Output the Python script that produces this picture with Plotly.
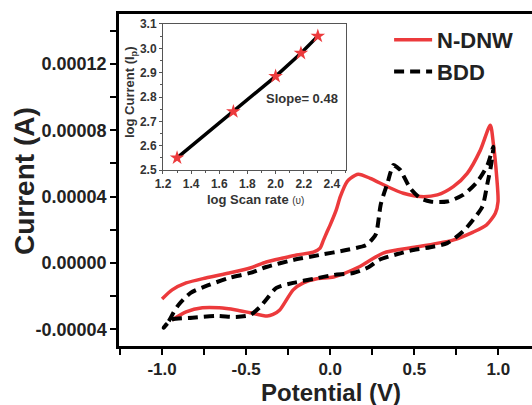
import numpy as np
import plotly.graph_objects as go

# ---------------- data ----------------
# N-DNW cyclic voltammogram (potential V, current in 1e-5 A)
ndnw_v = [-1.0, -0.94, -0.857, -0.74, -0.6, -0.476, -0.38, -0.28, -0.2, -0.1, -0.06, -0.04, -0.018,
          0.0, 0.036, 0.06, 0.10, 0.12, 0.167, 0.238, 0.34, 0.435, 0.536, 0.637, 0.732, 0.815,
          0.893, 0.952, 0.97, 0.99, 0.998, 0.982, 0.93, 0.85, 0.73, 0.51, 0.315, 0.17, 0.02,
          -0.08, -0.16, -0.22, -0.30, -0.34, -0.375, -0.476, -0.56, -0.66, -0.76, -0.857, -0.94]
ndnw_i = [-2.17, -1.62, -1.2, -0.9, -0.6, -0.3, 0.06, 0.3, 0.48, 0.66, 0.9, 1.38, 1.9,
          2.3, 3.2, 4.0, 4.9, 5.1, 5.35, 5.1, 4.6, 4.2, 4.0, 4.1, 4.6, 5.4,
          6.8, 8.3, 7.2, 5.2, 3.7, 3.0, 2.3, 1.86, 1.38, 0.96, 0.6, -0.24, -0.84,
          -0.95, -1.2, -1.62, -2.83, -3.1, -3.2, -3.0, -2.83, -2.7, -2.7, -2.95, -3.43]

# BDD cyclic voltammogram (potential V, current in 1e-5 A)
bdd_v = [-0.99, -0.96, -0.93, -0.9, -0.83, -0.72, -0.6, -0.476, -0.38, -0.22, -0.065, 0.095,
         0.214, 0.256, 0.274, 0.30, 0.32, 0.34, 0.36, 0.375, 0.40, 0.417, 0.476, 0.536, 0.595,
         0.696, 0.79, 0.875, 0.935, 0.97, 0.955, 0.935, 0.905, 0.85, 0.79, 0.696, 0.595, 0.494,
         0.40, 0.29, 0.23, 0.137, 0.02, -0.1, -0.22, -0.32, -0.38, -0.417, -0.476, -0.56,
         -0.68, -0.82, -0.946, -0.99]
bdd_i = [-3.9, -3.5, -2.95, -2.5, -1.8, -1.32, -0.9, -0.6, -0.24, 0.18, 0.48, 0.78,
         1.08, 1.5, 1.8, 3.5, 4.2, 4.8, 5.5, 5.9, 5.75, 5.6, 4.5, 3.9, 3.7,
         3.7, 4.1, 4.9, 5.9, 7.0, 5.8, 4.8, 3.4, 2.6, 1.9, 1.2, 0.95, 0.78,
         0.54, 0.18, -0.24, -0.6, -0.72, -0.96, -1.2, -1.5, -2.2, -2.65, -3.13, -3.25,
         -3.19, -3.3, -3.43, -3.9]

# Inset: log scan rate vs log peak current
log_rate = [1.30, 1.70, 2.00, 2.18, 2.30]
log_ip = [2.55, 2.74, 2.885, 2.98, 3.05]

y_tickvals = [-0.00004, 0.0, 0.00004, 0.00008, 0.00012]
y_ticktext = ["-0.00004", "0.00000", "0.00004", "0.00008", "0.00012"]
x_tickvals = [-1.0, -0.5, 0.0, 0.5, 1.0]
x_ticktext = ["-1.0", "-0.5", "0.0", "0.5", "1.0"]

RED = "#ec3a3c"
FONT = "Arial, Liberation Sans, sans-serif"

fig = go.Figure()
fig.add_trace(go.Scatter(x=ndnw_v, y=np.array(ndnw_i) * 1e-5, mode="lines", name="N-DNW",
                         line=dict(color=RED, width=3.5, shape="spline", smoothing=0.7)))
fig.add_trace(go.Scatter(x=bdd_v, y=np.array(bdd_i) * 1e-5, mode="lines", name="BDD",
                         line=dict(color="black", width=4, dash="10px,6px", shape="spline", smoothing=0.7)))

# inset
fig.add_trace(go.Scatter(x=log_rate, y=log_ip, mode="lines+markers", showlegend=False,
                         xaxis="x2", yaxis="y2",
                         line=dict(color="black", width=3.5),
                         marker=dict(symbol="star", size=11, color=RED)))

fig.update_layout(
    width=532, height=405,
    margin=dict(l=119, r=0, t=14, b=59),
    paper_bgcolor="white", plot_bgcolor="white",
    font=dict(family=FONT, color="#222"),
    xaxis=dict(range=[-1.256, 1.2], tickvals=x_tickvals, ticktext=x_ticktext,
               showgrid=False, zeroline=False, showline=True, linecolor="black", linewidth=2.5,
               mirror=True, ticks="outside", ticklen=6, tickwidth=2, tickcolor="black",
               minor=dict(dtick=0.25, tick0=0, ticks="outside", ticklen=6, tickwidth=2, tickcolor="black"),
               tickfont=dict(size=17, weight="bold", family=FONT, color="#222")),
    yaxis=dict(range=[-0.00005, 0.00015], tickvals=y_tickvals, ticktext=y_ticktext,
               showgrid=False, zeroline=False, showline=True, linecolor="black", linewidth=2.5,
               ticks="outside", ticklen=6, tickwidth=2, tickcolor="black",
               minor=dict(dtick=0.00002, tick0=0, ticks="outside", ticklen=6, tickwidth=2, tickcolor="black"),
               tickfont=dict(size=18, weight="bold", family=FONT, color="#222")),
    xaxis2=dict(domain=[0.1065, 0.5496], anchor="y2", range=[1.2, 2.5], dtick=0.2, tick0=1.2,
                tickformat=".1f", showgrid=False, zeroline=False, showline=True, mirror=True,
                linecolor="#555", linewidth=1, ticks="outside", ticklen=3, tickwidth=1, tickcolor="#555",
                minor=dict(dtick=0.1, ticks="outside", ticklen=2, tickcolor="#555"),
                tickfont=dict(size=12, weight="bold", family=FONT, color="#333")),
    yaxis2=dict(domain=[0.530, 0.970], anchor="x2", range=[2.5, 3.1], dtick=0.1, tick0=2.5,
                tickformat=".1f", showgrid=False, zeroline=False, showline=True, mirror=True,
                linecolor="#555", linewidth=1, ticks="outside", ticklen=3, tickwidth=1, tickcolor="#555",
                minor=dict(dtick=0.05, ticks="outside", ticklen=2, tickcolor="#555"),
                tickfont=dict(size=12, weight="bold", family=FONT, color="#333")),
    legend=dict(x=0.654, y=0.985, xanchor="left", yanchor="top", bgcolor="rgba(0,0,0,0)",
                font=dict(size=22, weight="bold", family=FONT, color="#222"),
                tracegroupgap=0, itemwidth=38),
    annotations=[
        dict(text="<b>Current (A)</b>", xref="paper", yref="paper", x=-94 / 413, y=0.497,
             xanchor="center", yanchor="middle", textangle=-90, showarrow=False,
             font=dict(size=28, family=FONT, color="#222")),
        dict(text="<b>Potential (V)</b>", xref="paper", yref="paper", x=(331 - 119) / 413, y=-46 / 332,
             xanchor="center", yanchor="middle", showarrow=False,
             font=dict(size=24, family=FONT, color="#222")),
        dict(text="<b>log Scan rate</b> <span style='font-size:10px'>(υ)</span>", xref="paper", yref="paper",
             x=(255 - 119) / 413, y=(346 - 199) / 332, xanchor="center", yanchor="middle", showarrow=False,
             font=dict(size=13, family=FONT, color="#333")),
        dict(text="<b>log Current (I<sub>p</sub>)</b>", xref="paper", yref="paper",
             x=(130 - 119) / 413, y=(346 - 92) / 332, xanchor="center", yanchor="middle", textangle=-90,
             showarrow=False, font=dict(size=13, family=FONT, color="#333")),
        dict(text="<b>Slope= 0.48</b>", xref="x2", yref="y2", x=2.19, y=2.795,
             xanchor="center", yanchor="middle", showarrow=False,
             font=dict(size=13, family=FONT, color="#333")),
    ],
)

fig.write_html("out.html", config={"displayModeBar": False},
               post_script="document.body.style.margin='0';")
